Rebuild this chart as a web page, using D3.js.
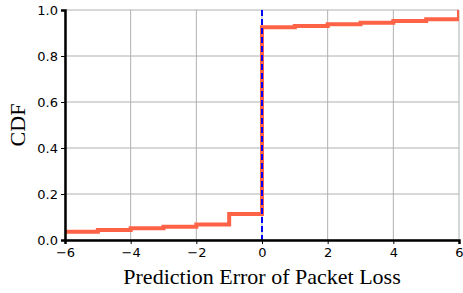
<!DOCTYPE html>
<html>
<head>
<meta charset="utf-8">
<script src="https://cdn.jsdelivr.net/npm/d3@7"></script>
<style>
  body { margin: 0; background: #fff; }
  svg { display: block; }
  .tick text { font-family: "DejaVu Sans", sans-serif; font-size: 13px; fill: #000; }
</style>
</head>
<body>
<div id="chart"></div>
<script>
const errors = [-6, -5, -4, -3, -2, -1, 0, 1, 2, 3, 4, 5, 6];
const cdf = [0.036, 0.043, 0.051, 0.058, 0.067, 0.113, 0.925, 0.930, 0.938, 0.945, 0.952, 0.960, 1.0];
const xTicks = [-6, -4, -2, 0, 2, 4, 6];
const yTicks = [0, 0.2, 0.4, 0.6, 0.8, 1.0];

const W = 463, H = 293;
const margin = { top: 10, right: 4, bottom: 53, left: 65 };
const width = W - margin.left - margin.right;
const height = H - margin.top - margin.bottom;

const svg = d3.select('#chart').append('svg')
  .attr('width', W)
  .attr('height', H);

const g = svg.append('g')
  .attr('transform', `translate(${margin.left},${margin.top})`);

const x = d3.scaleLinear().domain([-6, 6]).range([0, width]);
const y = d3.scaleLinear().domain([0, 1]).range([height, 0]);

g.append('defs').append('clipPath').attr('id', 'clip')
  .append('rect').attr('width', width).attr('height', height);

// grid
g.append('g').selectAll('line').data(xTicks).enter().append('line')
  .attr('x1', d => x(d)).attr('x2', d => x(d))
  .attr('y1', 0).attr('y2', height)
  .attr('stroke', '#b0b0b0').attr('stroke-width', 1);
g.append('g').selectAll('line').data(yTicks).enter().append('line')
  .attr('x1', 0).attr('x2', width)
  .attr('y1', d => y(d)).attr('y2', d => y(d))
  .attr('stroke', '#b0b0b0').attr('stroke-width', 1);

// step cdf
const line = d3.line()
  .x((d, i) => x(errors[i]))
  .y(d => y(d))
  .curve(d3.curveStepAfter);

g.append('path')
  .datum(cdf)
  .attr('clip-path', 'url(#clip)')
  .attr('d', line)
  .attr('fill', 'none')
  .attr('stroke', '#ff6347')
  .attr('stroke-width', 4);

// zero line
g.append('line')
  .attr('x1', x(0)).attr('x2', x(0))
  .attr('y1', 0).attr('y2', height)
  .attr('stroke', '#0000ff')
  .attr('stroke-width', 2)
  .attr('stroke-dasharray', '6,3');

// axes
const fmtX = d => (d < 0 ? '\u2212' + Math.abs(d) : String(d));
const xAxis = g.append('g')
  .attr('transform', `translate(0,${height})`)
  .call(d3.axisBottom(x).tickValues(xTicks).tickFormat(fmtX).tickSize(4).tickPadding(4));
const yAxis = g.append('g')
  .call(d3.axisLeft(y).tickValues(yTicks).tickFormat(d3.format('.1f')).tickSize(4).tickPadding(3));

[xAxis, yAxis].forEach(a => {
  a.select('.domain').attr('stroke', '#000').attr('stroke-width', 2.5);
  a.selectAll('.tick line').attr('stroke', '#000').attr('stroke-width', 1);
});

// labels
svg.append('text')
  .attr('x', margin.left + x(0))
  .attr('y', 284)
  .attr('text-anchor', 'middle')
  .attr('font-family', '"Liberation Serif", "Times New Roman", serif')
  .attr('font-size', 22)
  .text('Prediction Error of Packet Loss');

svg.append('text')
  .attr('transform', `translate(25,${margin.top + height / 2}) rotate(-90)`)
  .attr('text-anchor', 'middle')
  .attr('font-family', '"Liberation Serif", "Times New Roman", serif')
  .attr('font-size', 22)
  .text('CDF');
</script>
</body>
</html>
